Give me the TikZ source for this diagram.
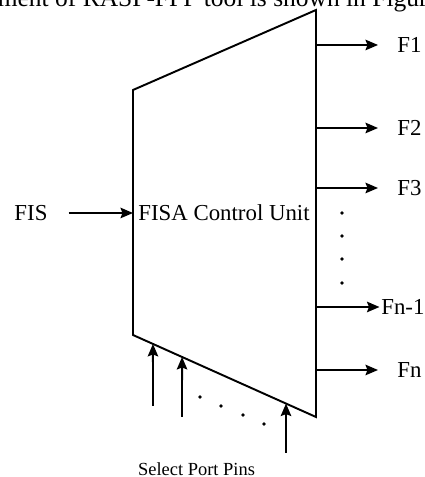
\documentclass[tikz,border=0pt]{standalone}
\usepackage{fontspec}
\setmainfont{Liberation Serif}
\usetikzlibrary{arrows.meta,calc}

\begin{document}
\begin{tikzpicture}[
  every node/.style={font=\fontsize{13}{15}\selectfont},
  arr/.style={line width=1.1pt,-{Stealth[length=2.5mm,width=2.1mm,inset=0.4mm]}},
  flabel/.style={anchor=west,inner sep=0pt},
  dot/.style={circle,fill,inner sep=0pt,minimum size=2.2pt}
]
  \useasboundingbox (0,0) rectangle (8.48,9.54);
  \clip (0,0) rectangle (8.48,9.54);

  \node[anchor=base west,inner sep=0pt,font=\fontsize{14.5}{17}\selectfont] (prose) at (-0.05,9.40) {ment of RASP-FPP tool is shown in Figure};

  \coordinate (tl) at (2.66,7.74);
  \coordinate (tr) at (6.32,9.34);
  \coordinate (br) at (6.32,1.20);
  \coordinate (bl) at (2.66,2.84);
  \draw[line width=1.1pt] (tl) -- (tr) -- (br) -- (bl) -- cycle;

  \node (unit) at (4.48,5.28) {FISA Control Unit};
  \node (fis) at (0.62,5.28) {FIS};
  \draw[arr] ([xshift=0.30cm]fis.east) -- (fis -| tl);

  \node[flabel] (f1) at (7.94,8.64) {F1};
  \node[flabel] (f2) at (7.94,6.98) {F2};
  \node[flabel] (f3) at (7.94,5.78) {F3};
  \node[flabel] (fn1) at (7.62,3.40) {Fn-1};
  \node[flabel] (fn) at (7.94,2.14) {Fn};
  \draw[arr] (f1 -| tr) -- ([xshift=-0.38cm]f1.west);
  \draw[arr] (f2 -| tr) -- ([xshift=-0.38cm]f2.west);
  \draw[arr] (f3 -| tr) -- ([xshift=-0.38cm]f3.west);
  \draw[arr] (fn1 -| tr) -- ([xshift=-0.03cm]fn1.west);
  \draw[arr] (fn -| tr) -- ([xshift=-0.38cm]fn.west);
  \foreach \y in {5.28,4.82,4.36,3.88}
    \node[dot] at (6.84,\y) {};

  \coordinate (s1) at (3.06,1.42);
  \coordinate (s2) at (3.64,1.20);
  \coordinate (s3) at (5.72,0.48);
  \draw[arr] (s1) -- ($(bl)!0.109!(br)$);
  \draw[arr] (s2) -- ($(bl)!0.268!(br)$);
  \draw[arr] (s3) -- ($(bl)!0.836!(br)$);
  \foreach \x/\y in {4.00/1.60,4.42/1.42,4.86/1.24,5.28/1.06}
    \node[dot] at (\x,\y) {};

  \node[anchor=base,font=\fontsize{10.5}{12}\selectfont] (pins) at (3.93,0.03) {Select Port Pins};
\end{tikzpicture}
\end{document}
